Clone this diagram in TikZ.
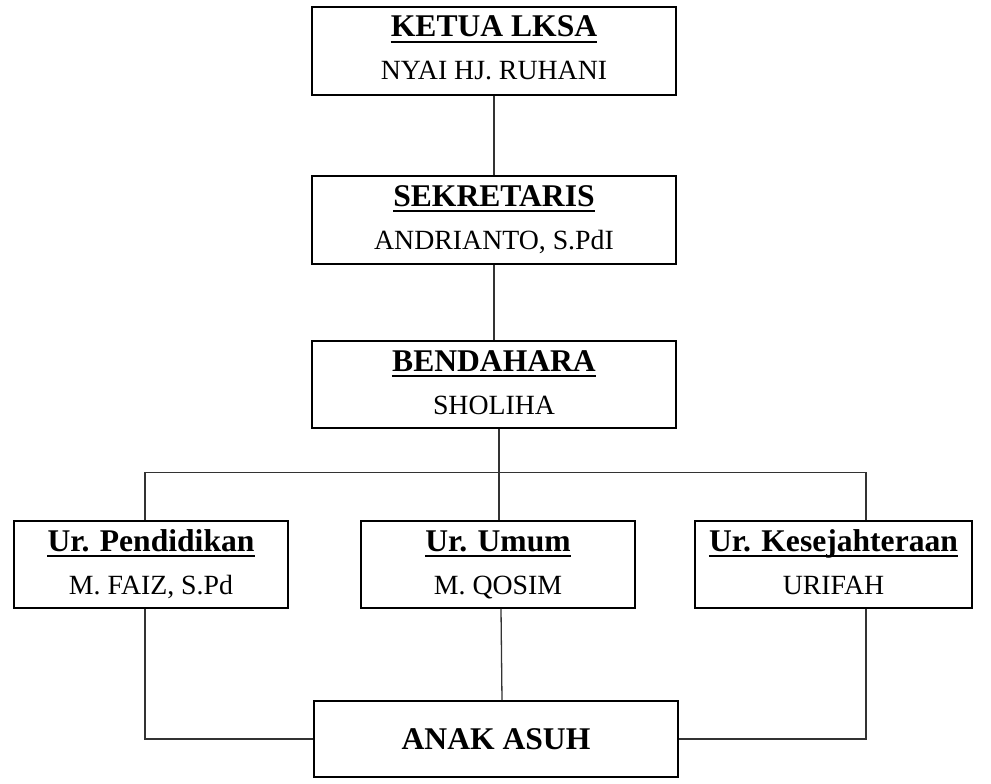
\documentclass[tikz,border=0pt]{standalone}
\usepackage{fontspec}
\setmainfont{Liberation Serif}
\begin{document}
\begin{tikzpicture}[x=1pt,y=-1pt,
  box/.style={draw=black,line width=1.6pt,fill=white,inner sep=0pt,minimum width=364pt,minimum height=88pt},
  ttl/.style={inner sep=0pt,anchor=base,font=\fontsize{31.6}{36}\selectfont\bfseries},
  nam/.style={inner sep=0pt,anchor=base,font=\fontsize{27.8}{32}\selectfont},
  conn/.style={draw=black!80,line width=1.3pt},
  ul/.style={line width=2pt,black}]
\useasboundingbox (0,0) rectangle (991,784);
% boxes
\node[box] (k) at (494,51) {};
\node[box] (s) at (494,220) {};
\node[box,minimum height=87pt] (b) at (494,384.5) {};
\node[box,minimum width=274pt,minimum height=87pt] (p) at (151,564.5) {};
\node[box,minimum width=274pt,minimum height=87pt] (u) at (498,564.5) {};
\node[box,minimum width=277pt,minimum height=87pt] (w) at (833.5,564.5) {};
\node[box,minimum height=76pt] (a) at (496,739) {};
% texts
\node[ttl] (kt) at (494,37) {KETUA LKSA};
\node[nam] (kn) at (494,80) {NYAI HJ. RUHANI};
\node[ttl] (st) at (494,206) {SEKRETARIS};
\node[nam] (sn) at (494,249) {ANDRIANTO, S.PdI};
\node[ttl] (bt) at (494,371) {BENDAHARA};
\node[nam] (bn) at (494,414) {SHOLIHA};
\node[ttl] (pt) at (151,551) {Ur. Pendidikan};
\node[nam] (pn) at (151,594) {M. FAIZ, S.Pd};
\node[ttl] (ut) at (498,551) {Ur. Umum};
\node[nam] (un) at (498,594) {M. QOSIM};
\node[ttl] (wt) at (833.5,551) {Ur. Kesejahteraan};
\node[nam] (wn) at (833.5,594) {URIFAH};
\node[ttl] (at) at (496,749) {ANAK ASUH};
% underlines
\foreach \t in {kt,st,bt,pt,ut,wt}{
  \draw[ul] ([yshift=-5pt]\t.base west) -- ([yshift=-5pt]\t.base east);
}
% connectors
\coordinate (jl) at (145,472.5);
\coordinate (jb) at (499,472.5);
\coordinate (jr) at (866,472.5);
\draw[conn] (k.south) -- (s.north);
\draw[conn] (s.south) -- (b.north);
\draw[conn] (b.south -| jb) -- (jb) -- (u.north -| jb);
\draw[conn] (p.north -| jl) -- (jl) -- (jr) -- (w.north -| jr);
\draw[conn] (p.south -| jl) |- (a.west);
\draw[conn] (w.south -| jr) |- (a.east);
\draw[conn] (u.south) ++(3,0) -- ([xshift=6pt]a.north);
\end{tikzpicture}
\end{document}
